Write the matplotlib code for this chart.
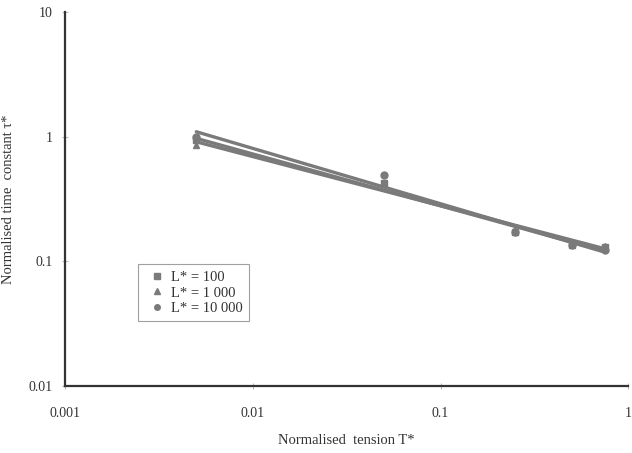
import numpy as np
import matplotlib.pyplot as plt
from matplotlib.ticker import FixedLocator, FixedFormatter, NullLocator

# Data
tension = [0.005, 0.05, 0.25, 0.5, 0.75]
tau_L100 = [0.93, 0.42, 0.17, 0.135, 0.13]
tau_L1000 = [0.86, 0.42, 0.18, 0.14, 0.132]
tau_L10000 = [1.0, 0.49, 0.17, 0.135, 0.123]

series = [
    ("L* = 100", tau_L100, "s"),
    ("L* = 1 000", tau_L1000, "^"),
    ("L* = 10 000", tau_L10000, "o"),
]

plt.rcParams["font.family"] = ["Liberation Serif", "DejaVu Serif"]
grey = "#7a7a7a"
text_col = "#333333"

fig = plt.figure(figsize=(6.32, 4.53), dpi=100)
ax = fig.add_axes([0.103, 0.148, 0.891, 0.826])

x = np.array(tension)
for label, vals, mk in series:
    y = np.array(vals)
    ax.plot(x, y, linestyle="none", marker=mk, markersize=5, color=grey, label=label)
    # power-law trendline, as in the original
    b, a = np.polyfit(np.log10(x), np.log10(y), 1)
    xt = np.array([x.min(), x.max()])
    ax.plot(xt, 10 ** (a + b * np.log10(xt)), color=grey, linewidth=2.4,
            solid_capstyle="round")

ax.set_xscale("log")
ax.set_yscale("log")
ax.set_xlim(0.001, 1)
ax.set_ylim(0.01, 10)

ax.xaxis.set_major_locator(FixedLocator([0.001, 0.01, 0.1, 1]))
ax.xaxis.set_major_formatter(FixedFormatter(["0.001", "0.01", "0.1", "1"]))
ax.yaxis.set_major_locator(FixedLocator([0.01, 0.1, 1, 10]))
ax.yaxis.set_major_formatter(FixedFormatter(["0.01", "0.1", "1", "10"]))
ax.xaxis.set_minor_locator(NullLocator())
ax.yaxis.set_minor_locator(NullLocator())

for side in ["top", "right"]:
    ax.spines[side].set_visible(False)
for side in ["left", "bottom"]:
    ax.spines[side].set_color("#333333")
    ax.spines[side].set_linewidth(1.6)

ax.tick_params(axis="both", direction="inout", length=4, width=0.8, color="#bbbbbb",
               labelsize=10, labelcolor=text_col)
ax.tick_params(axis="x", pad=13)
ax.tick_params(axis="y", pad=7)

ax.set_xlabel("Normalised  tension T*", fontsize=10.5, color=text_col, labelpad=10)
ax.set_ylabel("Normalised time  constant \u03c4*", fontsize=10.5, color=text_col, labelpad=10)

# legend entries: markers only
handles, labels = ax.get_legend_handles_labels()
leg = ax.legend(handles, labels, loc="upper left", bbox_to_anchor=(0.13, 0.325),
                borderaxespad=0, fontsize=10.5, frameon=True, fancybox=False,
                handlelength=1.6, handletextpad=0.2, borderpad=0.45,
                labelspacing=0.15, markerscale=0.8)
leg.get_frame().set_edgecolor("#888888")
leg.get_frame().set_linewidth(0.8)
for t in leg.get_texts():
    t.set_color(text_col)

plt.savefig("out.png", dpi=100)
